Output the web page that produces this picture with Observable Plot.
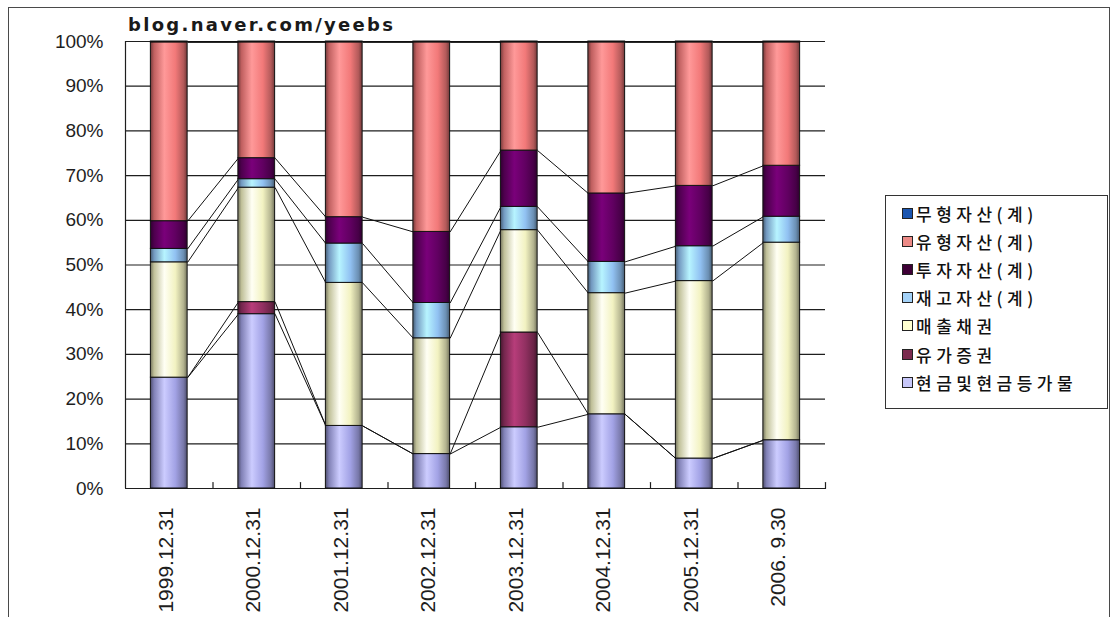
<!DOCTYPE html>
<html>
<head>
<meta charset="utf-8">
<script src="https://cdn.jsdelivr.net/npm/d3@7"></script>
<script src="https://cdn.jsdelivr.net/npm/@observablehq/plot@0.6"></script>
<style>
  body { margin: 0; background: #fff; }
  #wrap { position: relative; width: 1112px; height: 617px; overflow: hidden; background: #fff; }
  #border { position: absolute; left: 8px; top: 7px; width: 1102px; height: 660px; border: 1.5px solid #4a4a4a; box-sizing: border-box; }
  #title { position: absolute; left: 128px; top: 14px; line-height: 18px; font: bold 18px "DejaVu Sans", sans-serif; letter-spacing: 2.3px; color: #1a1a1a; white-space: nowrap; }
  #legend { position: absolute; left: 885px; top: 195px; width: 223px; height: 214px; border: 1.5px solid #333; box-sizing: border-box; background: #fff; }
  .item { position: absolute; left: 16px; height: 28px; display: flex; align-items: center; font: 500 17px "Noto Sans CJK KR", sans-serif; letter-spacing: 4.5px; color: #111; white-space: nowrap; }
  .sw { width: 9px; height: 9px; border: 1px solid #222; margin-right: 3px; flex: none; }
  #chart { position: absolute; left: 0; top: 0; }
</style>
</head>
<body>
<div id="wrap">
  <div id="border"></div>
  <div id="chart"></div>
  <div id="title">blog.naver.com/yeebs</div>
  <div id="legend"></div>
</div>
<script>
// Balance-sheet asset composition (percent of total assets), per reporting date
const dates = ["1999.12.31", "2000.12.31", "2001.12.31", "2002.12.31", "2003.12.31", "2004.12.31", "2005.12.31", "2006. 9.30"];

// Series, stacked bottom to top
const seriesNames = ["현금및현금등가물", "유가증권", "매출채권", "재고자산(계)", "투자자산(계)", "유형자산(계)", "무형자산(계)"];
const cash        = [24.8, 39.0, 14.0,  7.7, 13.7, 16.6,  6.7, 10.8];
const securities  = [ 0.0,  2.7,  0.0,  0.0, 21.2,  0.0,  0.0,  0.0];
const receivables = [25.8, 25.6, 32.0, 25.9, 22.9, 27.1, 39.7, 44.2];
const inventory   = [ 3.0,  1.9,  8.8,  7.9,  5.2,  7.0,  7.8,  5.8];
const investments = [ 6.2,  4.7,  5.9, 15.9, 12.6, 15.3, 13.5, 11.4];
const tangible    = [40.0, 25.9, 39.1, 42.4, 24.2, 33.8, 32.1, 27.6];
const intangible  = [ 0.2,  0.2,  0.2,  0.2,  0.2,  0.2,  0.2,  0.2];

// Legend order (top to bottom)
const legendOrder = ["무형자산(계)", "유형자산(계)", "투자자산(계)", "재고자산(계)", "매출채권", "유가증권", "현금및현금등가물"];

const yTicks = [0, 10, 20, 30, 40, 50, 60, 70, 80, 90, 100];

// Fill colours, aligned with seriesNames
const barColors    = ["#ababf2", "#993366", "#ffffcc", "#99ccff", "#660066", "#ff8080", "#0066cc"];
const swatchColors = ["#c8c8fa", "#7a2a4e", "#ffffd0", "#a4d2f8", "#3e0036", "#ec8a86", "#1a55b0"];

const seriesValues = [cash, securities, receivables, inventory, investments, tangible, intangible];
const halfBar = 0.21; // half of a bar's width, in category units
const xDomain = [-0.5, dates.length - 0.5];

// Stacked segments
const segments = [];
const tops = seriesValues.map(() => []);
dates.forEach((date, i) => {
  let base = 0;
  seriesValues.forEach((vals, k) => {
    segments.push({i, k, y1: base, y2: base + vals[i]});
    base += vals[i];
    tops[k][i] = base;
  });
});

// Series lines joining each segment's top across neighbouring bars
const seriesLines = [];
tops.forEach((t, k) => {
  for (let i = 0; i < dates.length - 1; ++i) seriesLines.push({i, k, from: t[i], to: t[i + 1]});
});

// Category boundaries for the small inside ticks on the category axis
const boundaries = d3.range(dates.length).map(i => i + 0.5);
const tickShape = {draw(context, l) { context.moveTo(0, 0); context.lineTo(0, -l); }};

// Cylinder-like horizontal shading for each series colour
function shading(c) {
  const col = d3.color(c);
  return [
    {o: 0, c: col.darker(2.2).formatHex()},
    {o: 0.1, c: col.darker(0.8).formatHex()},
    {o: 0.38, c: col.brighter(0.5).formatHex()},
    {o: 0.68, c: col.darker(0.15).formatHex()},
    {o: 0.9, c: col.darker(1.0).formatHex()},
    {o: 1, c: col.darker(2.2).formatHex()}
  ];
}

// Gradient definitions, rendered as part of the plot
const gradientDefs = () => {
  const defs = d3.create("svg:defs");
  defs.selectAll("linearGradient").data(barColors).join("linearGradient")
      .attr("id", (d, k) => `bar-grad-${k}`)
      .attr("x1", "0%").attr("x2", "100%").attr("y1", "0%").attr("y2", "0%")
    .selectAll("stop").data(c => shading(c)).join("stop")
      .attr("offset", d => d.o)
      .attr("stop-color", d => d.c);
  return defs.node();
};

const chart = Plot.plot({
  width: 1112,
  height: 617,
  marginLeft: 125,
  marginRight: 287,
  marginTop: 41,
  marginBottom: 129,
  style: {background: "transparent", color: "#1e1e1e", fontFamily: "'Liberation Sans', Arial, sans-serif"},
  x: {type: "linear", domain: xDomain},
  y: {domain: [0, 100]},
  color: {type: "identity"},
  marks: [
    gradientDefs,
    Plot.ruleY(yTicks, {stroke: "#1e1e1e", strokeWidth: 1.2}),
    Plot.ruleX([xDomain[0]], {stroke: "#1e1e1e", strokeWidth: 1.2}),
    Plot.link(seriesLines, {
      x1: d => d.i + halfBar, y1: "from",
      x2: d => d.i + 1 - halfBar, y2: "to",
      stroke: "#111", strokeWidth: 1
    }),
    Plot.rect(segments, {
      x1: d => d.i - halfBar, x2: d => d.i + halfBar,
      y1: "y1", y2: "y2",
      fill: d => `url(#bar-grad-${d.k})`,
      stroke: "#111", strokeWidth: 1
    }),
    Plot.vector(boundaries, {x: d => d, frameAnchor: "bottom", length: 6, anchor: "start", shape: tickShape, stroke: "#1e1e1e", strokeWidth: 1.2}),
    Plot.axisY({ticks: yTicks, tickFormat: d => d + "%", tickSize: 0, tickPadding: 22, fontSize: 19}),
    Plot.axisX({ticks: d3.range(dates.length), tickFormat: i => dates[i], tickSize: 0, tickPadding: 19, tickRotate: -90, fontSize: 21, dx: -3})
  ]
});

document.getElementById("chart").append(chart);

// Legend
const legend = d3.select("#legend");
legendOrder.forEach((name, j) => {
  const k = seriesNames.indexOf(name);
  const item = legend.append("div").attr("class", "item").style("top", (3 + j * 28.2) + "px");
  item.append("div").attr("class", "sw").style("background", swatchColors[k]);
  item.append("span").text(name);
});
</script>
</body>
</html>
